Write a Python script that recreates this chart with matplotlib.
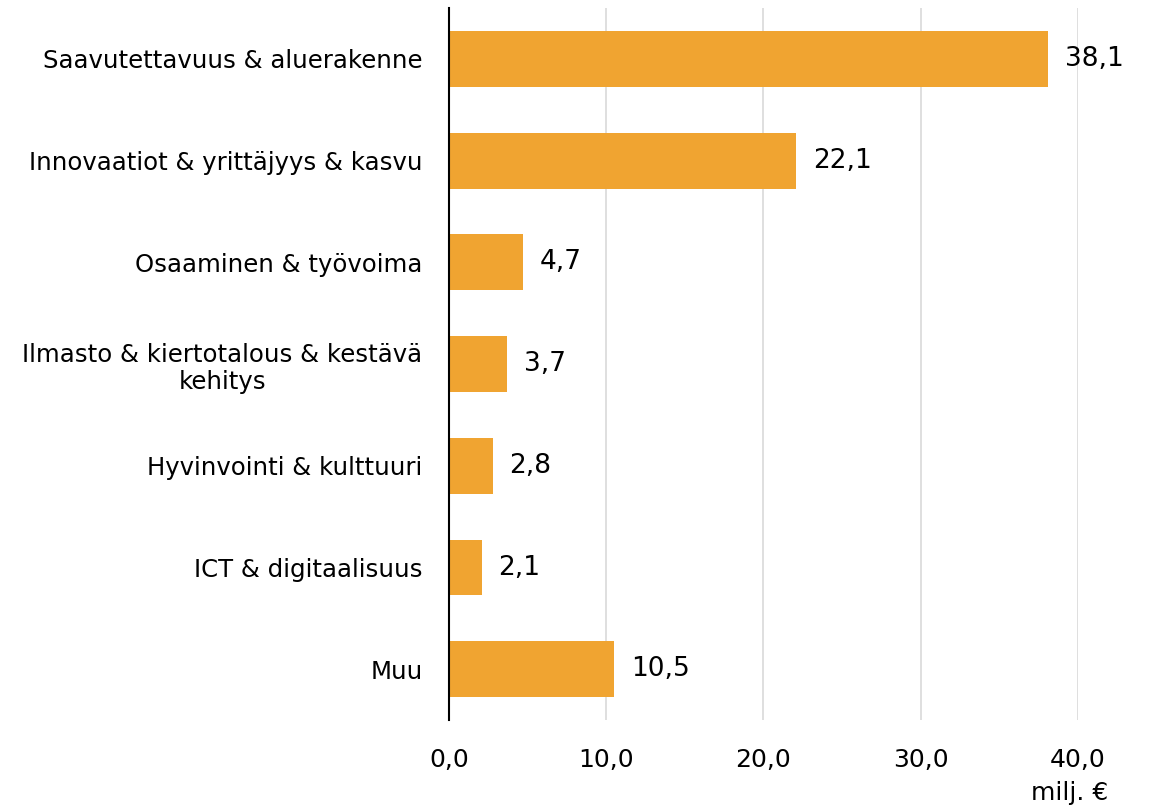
import matplotlib
matplotlib.use("Agg")
import matplotlib.pyplot as plt
from matplotlib.ticker import FuncFormatter

# data (milj. €)
categories = [
    "Saavutettavuus & aluerakenne",
    "Innovaatiot & yrittäjyys & kasvu",
    "Osaaminen & työvoima",
    "Ilmasto & kiertotalous & kestävä\nkehitys",
    "Hyvinvointi & kulttuuri",
    "ICT & digitaalisuus",
    "Muu",
]
values = [38.1, 22.1, 4.7, 3.7, 2.8, 2.1, 10.5]
x_ticks = [0, 10, 20, 30, 40]

BAR_COLOR = "#F0A431"
FONT = ["DejaVu Sans"]


def fi_num(v, _=None):
    return f"{v:.1f}".replace(".", ",")


fig = plt.figure(figsize=(11.51, 8.10), dpi=100)
ax = fig.add_axes([0.390, 0.111, 0.5466, 0.879])

ypos = list(range(len(categories)))
ax.barh(ypos, values, height=0.55, color=BAR_COLOR, zorder=2)

for y, v in zip(ypos, values):
    ax.annotate(fi_num(v), (v, y), xytext=(12, 0), textcoords="offset points",
                va="center", ha="left", fontsize=19, family=FONT)

ax.set_ylim(len(categories) - 0.5, -0.5)
ax.set_xlim(0, 40)
ax.set_yticks(ypos)
ax.set_yticklabels(categories, fontsize=17.6, family=FONT,
                   multialignment="center", linespacing=1.18)
ax.set_xticks(x_ticks)
ax.xaxis.set_major_formatter(FuncFormatter(fi_num))
for lab in ax.get_xticklabels():
    lab.set_fontsize(18)
    lab.set_family(FONT)

ax.tick_params(axis="both", length=0)
ax.tick_params(axis="x", pad=20)
ax.tick_params(axis="y", pad=19)
ax.grid(axis="x", color="#d9d9d9", linewidth=1.2, zorder=0)
ax.set_axisbelow(True)
for side in ["top", "right", "bottom"]:
    ax.spines[side].set_visible(False)
ax.spines["left"].set_color("black")
ax.spines["left"].set_linewidth(1.5)
ax.spines["left"].set_zorder(3)

fig.text(0.9626, 0.0123, "milj. €", ha="right", va="baseline",
         fontsize=18, family=FONT)

fig.savefig("out.png", dpi=100)
